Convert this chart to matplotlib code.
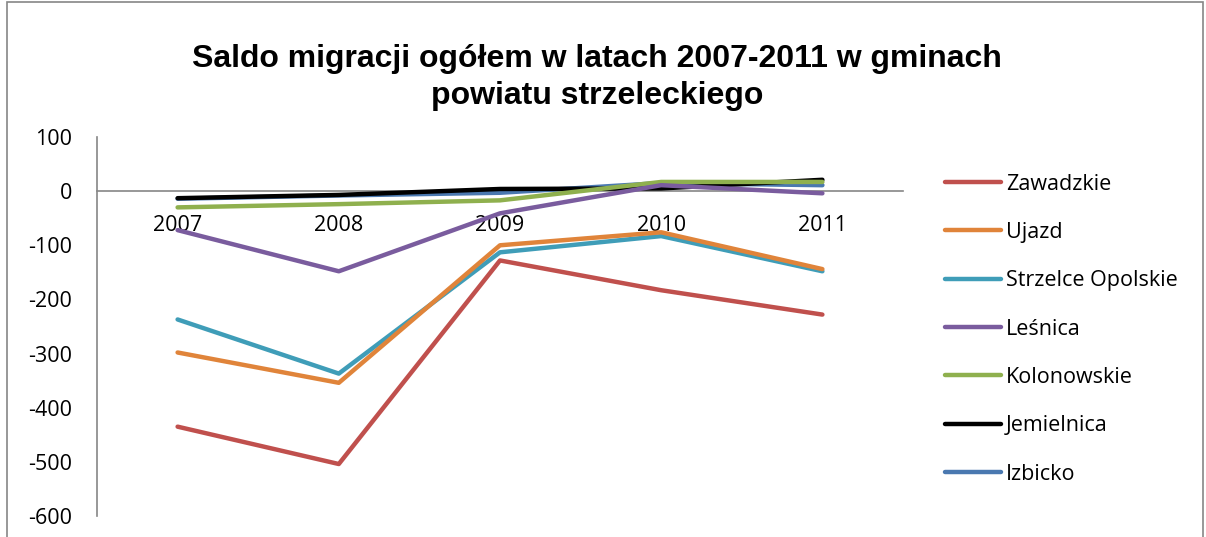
import numpy as np
import matplotlib.pyplot as plt
from matplotlib.patches import Rectangle

years = ["2007", "2008", "2009", "2010", "2011"]
zawadzkie = [-435, -504, -128, -183, -228]
ujazd = [-298, -354, -100, -76, -144]
strzelce = [-237, -337, -113, -83, -148]
lesnica = [-72, -148, -41, 11, -4]
kolonowskie = [-30, -24, -17, 17, 17]
jemielnica = [-13, -7, 4, 5, 21]
izbicko = [-14, -8, -3, 15, 11]

series = [
    ("Zawadzkie", zawadzkie, "#C0504D"),
    ("Ujazd", ujazd, "#E0843A"),
    ("Strzelce Opolskie", strzelce, "#3F9DB8"),
    ("Leśnica", lesnica, "#7A5C9E"),
    ("Kolonowskie", kolonowskie, "#8FB04E"),
    ("Jemielnica", jemielnica, "#000000"),
    ("Izbicko", izbicko, "#4A78B0"),
]

plt.rcParams['font.family'] = ['Open Sans', 'DejaVu Sans']
plt.rcParams['axes.unicode_minus'] = False

W, H = 1206, 537
fig = plt.figure(figsize=(W / 100, H / 100), dpi=100)
# chart area border (bottom edge is cut off in the original)
fig.patches.append(Rectangle((7 / W, -0.05), (1203 - 7) / W, 1.05 - 1.5 / H,
                             transform=fig.transFigure, fill=False,
                             edgecolor="#868686", linewidth=1.2))

ax = fig.add_axes([97 / W, (H - 516) / H, (903 - 97) / W, (516 - 137) / H])
x = np.arange(len(years))

lines = {}
for i, (name, vals, col) in enumerate(series):
    ln, = ax.plot(x, vals, color=col, linewidth=3.2, label=name,
                  solid_capstyle='round', zorder=10 + len(series) - i)
    lines[name] = ln

ax.set_xlim(-0.5, len(years) - 0.5)
ax.set_ylim(-600, 100)
ax.set_yticks(np.arange(-600, 101, 100))
ax.set_xticks(x)
ax.set_xticklabels(years)

for s in ["top", "right"]:
    ax.spines[s].set_visible(False)
ax.spines["bottom"].set_position(("data", 0))
ax.spines["bottom"].set_color("#868686")
ax.spines["left"].set_color("#868686")
ax.spines["bottom"].set_linewidth(1.2)
ax.spines["left"].set_linewidth(1.2)
ax.tick_params(axis="x", length=0, pad=17, labelsize=15.5)
ax.tick_params(axis="y", length=0, labelsize=15.5, pad=18)

fig.text(0.495, 0.855, "Saldo migracji ogółem w latach 2007-2011 w gminach\npowiatu strzeleckiego",
         ha="center", va="center", fontsize=23, fontweight="bold",
         family=["Liberation Sans", "DejaVu Sans"], linespacing=1.3)

fig.legend([lines[n] for n, _, _ in series], [n for n, _, _ in series],
           loc="upper left", bbox_to_anchor=(936 / W, 1 - 165 / H),
           frameon=False, fontsize=15.5, handlelength=2.6, handletextpad=0.25,
           labelspacing=1.27, borderaxespad=0)

fig.savefig("out.png", dpi=100)
